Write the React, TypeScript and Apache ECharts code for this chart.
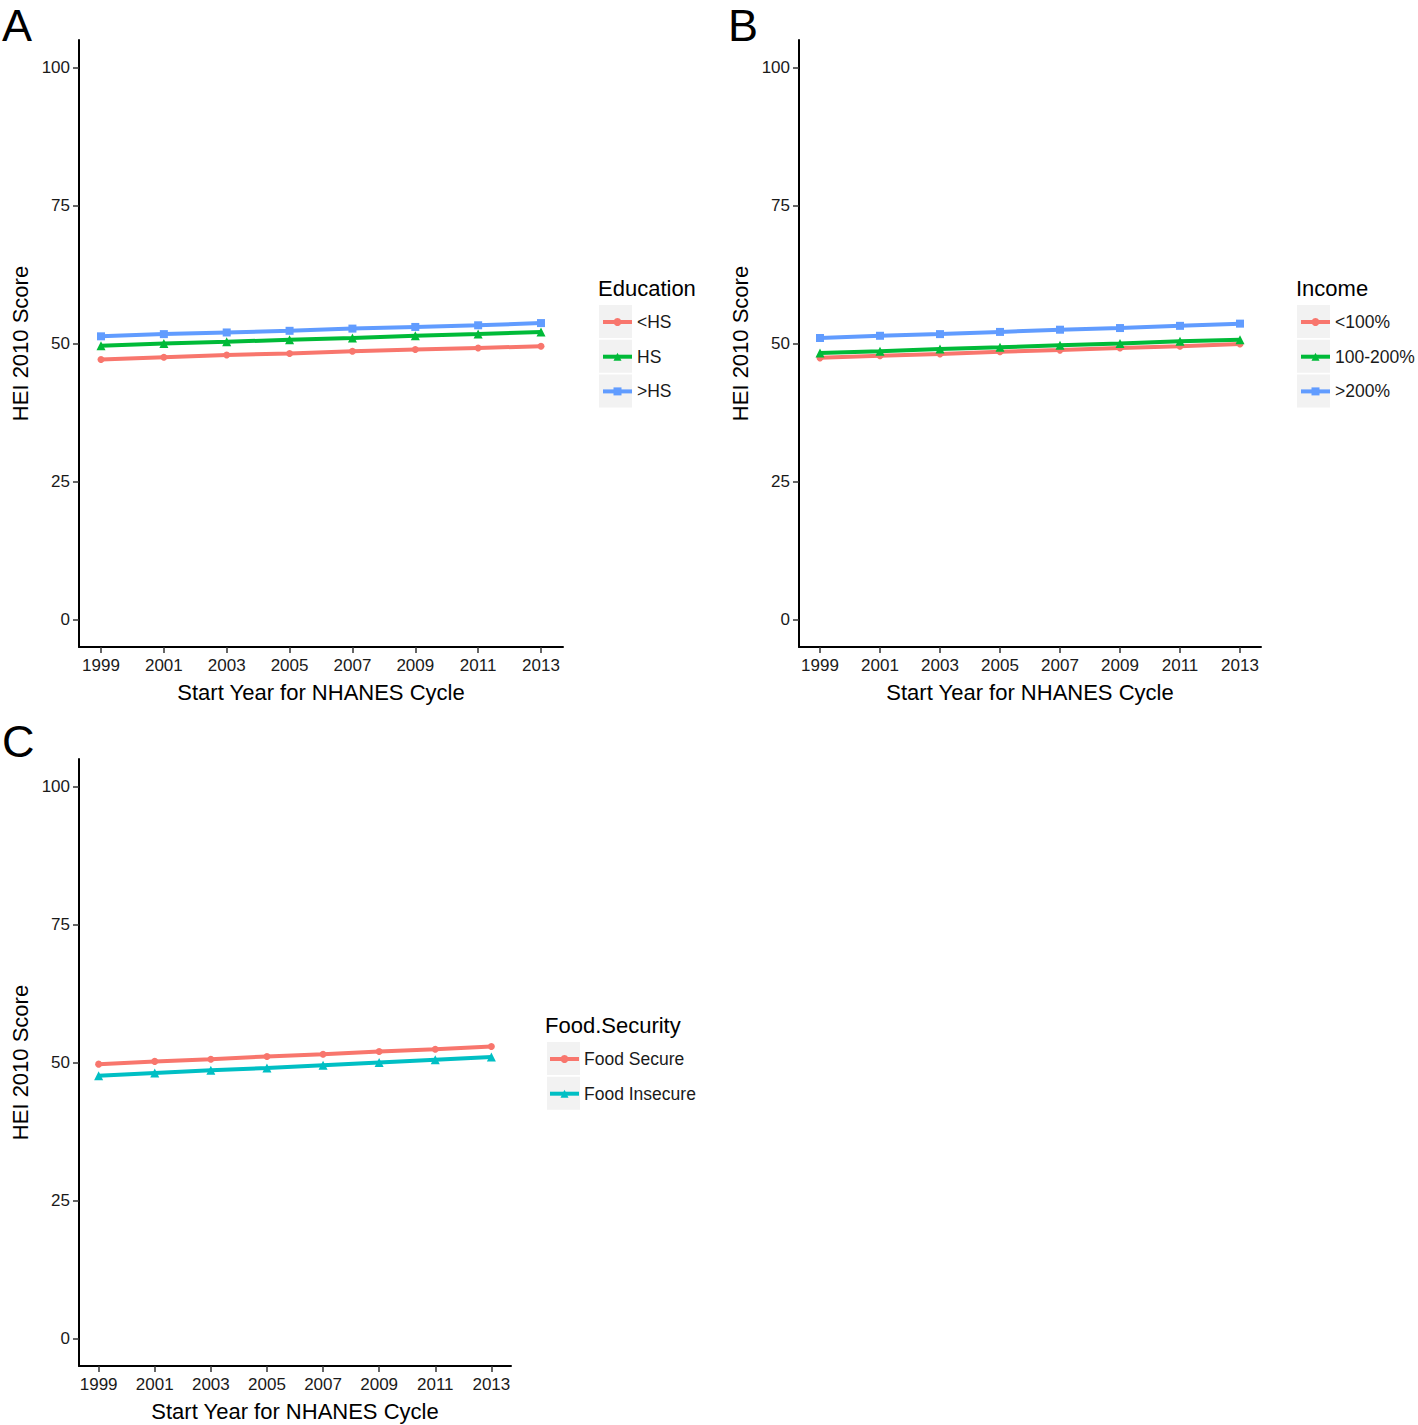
import React, { useEffect, useRef } from "react";
import * as echarts from "echarts";

const years = [1999, 2001, 2003, 2005, 2007, 2009, 2011, 2013];
const yTicks = [0, 25, 50, 75, 100];

const eduNames = ["<HS", "HS", ">HS"];
const eduLtHS = [47.1, 47.5, 47.9, 48.2, 48.6, 48.9, 49.2, 49.5];
const eduHS = [49.6, 50.0, 50.3, 50.7, 51.0, 51.4, 51.7, 52.1];
const eduGtHS = [51.3, 51.7, 52.0, 52.3, 52.7, 53.0, 53.3, 53.7];

const incNames = ["<100%", "100-200%", ">200%"];
const incLow = [47.4, 47.8, 48.1, 48.5, 48.8, 49.2, 49.5, 49.9];
const incMid = [48.3, 48.6, 49.0, 49.3, 49.7, 50.0, 50.4, 50.7];
const incHigh = [51.0, 51.4, 51.7, 52.1, 52.5, 52.8, 53.2, 53.6];

const foodNames = ["Food Secure", "Food Insecure"];
const foodSecure = [49.7, 50.2, 50.6, 51.1, 51.5, 52.0, 52.4, 52.9];
const foodInsecure = [47.6, 48.1, 48.6, 49.0, 49.5, 50.0, 50.5, 51.0];

const RED = "#F8766D";
const GREEN = "#00BA38";
const BLUE = "#619CFF";
const TEAL = "#00BFC4";
const FONT = "Liberation Sans, Arial, sans-serif";

const grids = [
  { left: 79, top: 40, width: 484, height: 607 },
  { left: 799, top: 40, width: 462, height: 607 },
  { left: 79, top: 759, width: 432, height: 607 },
];

function xAxisFor(i: number) {
  return {
    type: "value",
    gridIndex: i,
    min: 1998.3,
    max: 2013.7,
    name: "Start Year for NHANES Cycle",
    nameLocation: "middle",
    nameGap: 34,
    nameTextStyle: { fontFamily: FONT, fontSize: 22, color: "#000" },
    axisLine: { show: true, onZero: false, lineStyle: { color: "#000", width: 2 } },
    axisTick: { show: true, length: 6, lineStyle: { color: "#333", width: 1.5 }, customValues: years },
    axisLabel: {
      customValues: years,
      fontFamily: FONT,
      fontSize: 17,
      color: "#1a1a1a",
      margin: 10,
      formatter: (v: number) => String(v),
    },
    splitLine: { show: false },
  };
}

function yAxisFor(i: number) {
  return {
    type: "value",
    gridIndex: i,
    min: -5,
    max: 105,
    name: "HEI 2010 Score",
    nameLocation: "middle",
    nameGap: 48,
    nameTextStyle: { fontFamily: FONT, fontSize: 22, color: "#000" },
    axisLine: { show: true, onZero: false, lineStyle: { color: "#000", width: 2 } },
    axisTick: { show: true, length: 6, lineStyle: { color: "#333", width: 1.5 }, customValues: yTicks },
    axisLabel: { customValues: yTicks, fontFamily: FONT, fontSize: 17, color: "#1a1a1a", margin: 9 },
    splitLine: { show: false },
  };
}

function lineSeries(name: string, data: number[], color: string, symbol: string, size: number, idx: number) {
  return {
    type: "line",
    name,
    xAxisIndex: idx,
    yAxisIndex: idx,
    data: years.map((y, k) => [y, data[k]]),
    symbol,
    symbolSize: size,
    showSymbol: true,
    color,
    itemStyle: { color },
    lineStyle: { color, width: 4 },
  };
}

function legendFor(names: string[], left: number, top: number) {
  return {
    data: names,
    orient: "vertical",
    left,
    top,
    padding: 0,
    itemWidth: 29,
    itemHeight: 10,
    itemGap: 16.7,
    selectedMode: false,
    lineStyle: { width: 4 },
    textStyle: { fontFamily: FONT, fontSize: 17.5, color: "#1a1a1a", lineHeight: 18 },
  };
}

function keyRects(left: number, top: number, n: number) {
  const out: any[] = [];
  for (let k = 0; k < n; k++) {
    out.push({
      type: "rect",
      z: -1,
      shape: { x: left, y: top + k * 34.7, width: 33, height: 33 },
      style: { fill: "#F2F2F2" },
    });
  }
  return out;
}

function panelLabel(text: string, x: number, y: number) {
  return {
    type: "text",
    x,
    y,
    style: { text, font: `45px ${FONT}`, fill: "#000" },
  };
}

function legendTitle(text: string, x: number, y: number) {
  return {
    type: "text",
    x,
    y,
    style: { text, font: `22px ${FONT}`, fill: "#000" },
  };
}

export default function App() {
  const ref = useRef<HTMLDivElement>(null);
  useEffect(() => {
    if (!ref.current) return;
    const chart = echarts.init(ref.current, null, { renderer: "svg" });
    chart.setOption({
      animation: false,
      backgroundColor: "#fff",
      grid: grids,
      xAxis: [xAxisFor(0), xAxisFor(1), xAxisFor(2)],
      yAxis: [yAxisFor(0), yAxisFor(1), yAxisFor(2)],
      legend: [
        legendFor(eduNames, 601, 313),
        legendFor(incNames, 1299, 313),
        legendFor(foodNames, 548, 1050),
      ],
      series: [
        lineSeries("<HS", eduLtHS, RED, "circle", 7, 0),
        lineSeries("HS", eduHS, GREEN, "triangle", 9, 0),
        lineSeries(">HS", eduGtHS, BLUE, "rect", 8, 0),
        lineSeries("<100%", incLow, RED, "circle", 7, 1),
        lineSeries("100-200%", incMid, GREEN, "triangle", 9, 1),
        lineSeries(">200%", incHigh, BLUE, "rect", 8, 1),
        lineSeries("Food Secure", foodSecure, RED, "circle", 7, 2),
        lineSeries("Food Insecure", foodInsecure, TEAL, "triangle", 9, 2),
      ],
      graphic: [
        panelLabel("A", 2, 3),
        panelLabel("B", 728, 3),
        panelLabel("C", 2, 719),
        legendTitle("Education", 598, 277),
        legendTitle("Income", 1296, 277),
        legendTitle("Food.Security", 545, 1014),
        ...keyRects(599, 305, 3),
        ...keyRects(1297, 305, 3),
        ...keyRects(547, 1042, 2),
      ],
    });
    return () => chart.dispose();
  }, []);
  return (
    <div
      ref={ref}
      style={{ position: "absolute", left: 0, top: 0, width: 1418, height: 1425 }}
    />
  );
}
